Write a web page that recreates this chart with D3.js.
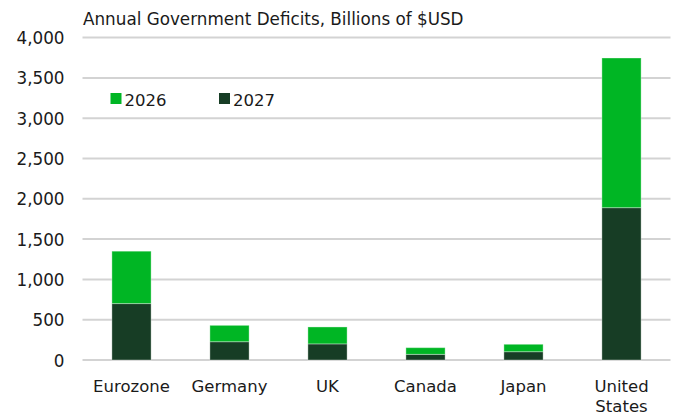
<!DOCTYPE html>
<html>
<head>
<meta charset="utf-8">
<script src="https://cdn.jsdelivr.net/npm/d3@7"></script>
<style>
  html, body { margin: 0; padding: 0; background: #fff; }
  svg { display: block; }
  text { font-family: "DejaVu Sans", sans-serif; fill: #1a1a1a; }
</style>
</head>
<body>
<svg id="chart" width="676" height="415"></svg>
<script>
// Annual government deficits, billions of USD
const categories = ["Eurozone", "Germany", "UK", "Canada", "Japan", "United States"];
const series2027 = [700, 227, 200, 70, 103, 1890];
const series2026 = [650, 203, 210, 83, 92, 1857];
const seriesNames = ["2026", "2027"];
const yTicks = [0, 500, 1000, 1500, 2000, 2500, 3000, 3500, 4000];

const colors = { "2026": "#00b624", "2027": "#173d25" };
const FONT = "'DejaVu Sans', sans-serif";
const FS = 16.5;

const svg = d3.select("#chart");
const margin = { left: 82.5, right: 5.5, top: 37.6, bottom: 55 };
const W = 676, H = 415;

const x = d3.scaleBand()
  .domain(categories)
  .range([margin.left, W - margin.right])
  .paddingInner(0.6)
  .paddingOuter(0.3);

const y = d3.scaleLinear()
  .domain([0, 4000])
  .range([H - margin.bottom, margin.top]);

// gridlines
svg.append("g")
  .selectAll("line")
  .data(yTicks)
  .join("line")
  .attr("x1", margin.left)
  .attr("x2", W - margin.right)
  .attr("y1", d => y(d))
  .attr("y2", d => y(d))
  .attr("stroke", "#d3d3d3")
  .attr("stroke-width", 2);

// y axis labels
const yAxis = d3.axisLeft(y)
  .tickValues(yTicks)
  .tickSize(0)
  .tickPadding(0)
  .tickFormat(d3.format(","));
const yg = svg.append("g")
  .attr("transform", `translate(${margin.left - 18},0)`)
  .call(yAxis);
yg.select(".domain").remove();
yg.selectAll("text")
  .attr("font-size", 16.8)
  .attr("font-family", FONT)
  .attr("fill", "#1a1a1a")
  .attr("dy", "0.36em");

// stacked bars: 2027 at the bottom, 2026 on top
const rows = categories.map((c, i) => ({ cat: c, "2027": series2027[i], "2026": series2026[i] }));
const stack = d3.stack().keys(["2027", "2026"]);
const layers = stack(rows);

svg.append("g")
  .selectAll("g")
  .data(layers)
  .join("g")
  .attr("fill", d => colors[d.key])
  .selectAll("rect")
  .data(d => d)
  .join("rect")
  .attr("x", d => x(d.data.cat))
  .attr("width", x.bandwidth())
  .attr("y", d => y(d[1]))
  .attr("height", d => y(d[0]) - y(d[1]))
  .attr("stroke", "#ffffff")
  .attr("stroke-opacity", 0.35)
  .attr("stroke-width", 1);

// category labels
const xg = svg.append("g");
categories.forEach(c => {
  const words = c === "United States" ? ["United", "States"] : [c];
  const t = xg.append("text")
    .attr("x", x(c) + x.bandwidth() / 2)
    .attr("y", 392)
    .attr("text-anchor", "middle")
    .attr("font-size", FS);
  words.forEach((w, i) => {
    t.append("tspan")
      .attr("x", x(c) + x.bandwidth() / 2)
      .attr("dy", i === 0 ? 0 : 20)
      .text(w);
  });
});

// title
svg.append("text")
  .attr("x", 83)
  .attr("y", 25)
  .attr("font-size", 16.8)
  .text("Annual Government Deficits, Billions of $USD");

// legend
const legendX = [110.5, 219];
const lg = svg.append("g");
seriesNames.forEach((s, i) => {
  lg.append("rect")
    .attr("x", legendX[i])
    .attr("y", 93)
    .attr("width", 11)
    .attr("height", 11)
    .attr("fill", colors[s]);
  lg.append("text")
    .attr("x", legendX[i] + 14)
    .attr("y", 106)
    .attr("font-size", FS)
    .text(s);
});
</script>
</body>
</html>
